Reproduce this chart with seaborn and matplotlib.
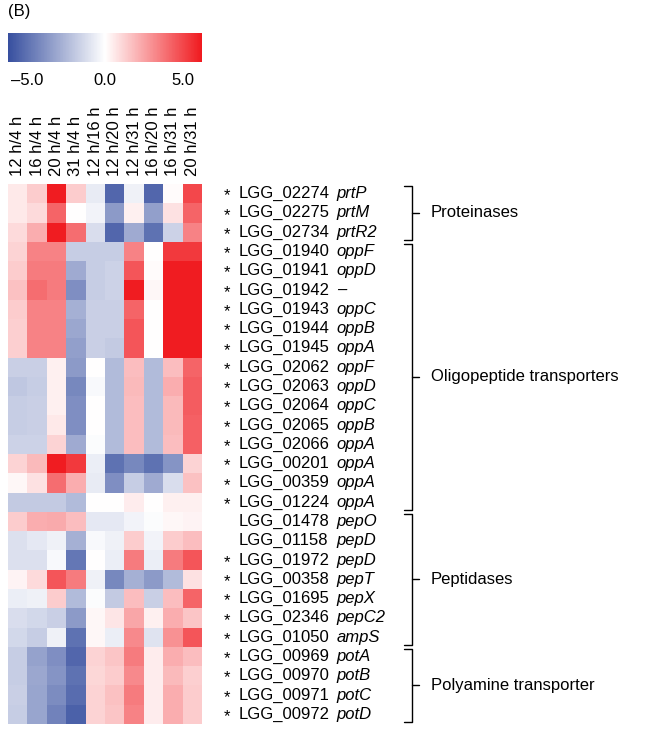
import numpy as np
import pandas as pd
import matplotlib
matplotlib.use('Agg')
import matplotlib.pyplot as plt
import seaborn as sns
from matplotlib.colors import LinearSegmentedColormap

# column comparisons
conditions = ['12 h/4 h', '16 h/4 h', '20 h/4 h', '31 h/4 h', '12 h/16 h',
              '12 h/20 h', '12 h/31 h', '16 h/20 h', '16 h/31 h', '20 h/31 h']

# genes (locus, name, significant)
loci = ['LGG_02274', 'LGG_02275', 'LGG_02734',
        'LGG_01940', 'LGG_01941', 'LGG_01942', 'LGG_01943', 'LGG_01944', 'LGG_01945',
        'LGG_02062', 'LGG_02063', 'LGG_02064', 'LGG_02065', 'LGG_02066',
        'LGG_00201', 'LGG_00359', 'LGG_01224',
        'LGG_01478', 'LGG_01158', 'LGG_01972', 'LGG_00358', 'LGG_01695', 'LGG_02346', 'LGG_01050',
        'LGG_00969', 'LGG_00970', 'LGG_00971', 'LGG_00972']
gene_names = ['prtP', 'prtM', 'prtR2',
              'oppF', 'oppD', '–', 'oppC', 'oppB', 'oppA',
              'oppF', 'oppD', 'oppC', 'oppB', 'oppA',
              'oppA', 'oppA', 'oppA',
              'pepO', 'pepD', 'pepD', 'pepT', 'pepX', 'pepC2', 'ampS',
              'potA', 'potB', 'potC', 'potD']
significant = [1, 1, 1, 1, 1, 1, 1, 1, 1, 1, 1, 1, 1, 1, 1, 1, 1,
               0, 0, 1, 1, 1, 1, 1, 1, 1, 1, 1]

groups = ['Proteinases', 'Oligopeptide transporters', 'Peptidases', 'Polyamine transporter']
group_sizes = [3, 14, 7, 4]

# log2 fold changes
log2fc = [
    [0.6, 1.4, 6.2, 1.4, -0.7, -5.4, -0.5, -5.4, 0.1, 5.0],
    [0.6, 1.0, 4.2, 0.0, -0.4, -3.6, 0.4, -3.4, 0.8, 4.2],
    [1.0, 2.2, 6.2, 4.0, -1.2, -5.4, -3.0, -5.0, -1.6, 3.4],
    [1.2, 3.4, 3.4, -1.8, -1.8, -1.8, 3.4, 0.0, 5.4, 5.4],
    [1.4, 3.6, 3.6, -3.0, -1.8, -1.6, 4.6, 0.1, 6.2, 6.2],
    [1.7, 4.0, 3.6, -4.0, -1.8, -1.6, 6.2, 0.2, 6.2, 6.2],
    [1.4, 3.4, 3.4, -2.8, -1.7, -1.7, 4.2, 0.0, 6.2, 6.2],
    [1.3, 3.4, 3.4, -3.1, -1.7, -1.7, 4.6, 0.0, 6.2, 6.2],
    [1.3, 3.4, 3.4, -3.4, -1.7, -1.9, 4.6, 0.0, 6.2, 6.2],
    [-1.7, -1.7, 0.4, -3.6, 0.0, -2.4, 1.8, -2.4, 1.8, 4.2],
    [-2.0, -1.8, 0.4, -4.2, -0.2, -2.4, 1.9, -2.4, 2.2, 4.4],
    [-1.8, -1.7, 0.4, -4.0, 0.0, -2.4, 1.8, -2.4, 1.9, 4.4],
    [-1.8, -1.7, 0.6, -4.0, 0.0, -2.4, 1.8, -2.4, 1.9, 4.3],
    [-1.6, -1.6, 1.2, -3.0, -0.1, -2.4, 1.8, -2.4, 1.8, 4.3],
    [1.2, 1.9, 6.2, 5.4, -0.6, -5.0, -4.2, -5.0, -3.8, 1.2],
    [0.2, 0.8, 4.0, 2.2, -0.7, -4.0, -1.8, -3.0, -1.2, 1.7],
    [-1.9, -1.9, -1.9, -2.4, 0.0, 0.0, 0.5, 0.0, 0.4, 0.4],
    [1.4, 2.2, 2.3, 1.8, -0.8, -0.8, -0.4, -0.1, 0.2, 0.3],
    [-1.1, -0.8, -0.5, -2.8, -0.2, -0.5, 1.4, -0.4, 1.4, 1.8],
    [-1.1, -1.1, -0.2, -4.8, 0.0, -0.6, 3.6, -0.6, 3.6, 4.6],
    [0.3, 1.0, 4.6, 3.6, -0.5, -4.2, -2.8, -3.6, -2.4, 0.8],
    [-0.6, -0.5, 1.4, -2.4, -0.1, -1.9, 1.8, -1.7, 1.8, 4.2],
    [-1.2, -1.4, -1.7, -3.6, 0.2, 0.7, 2.4, 0.4, 2.2, 1.6],
    [-1.4, -1.8, -0.5, -5.0, 0.2, -0.6, 3.2, -1.0, 3.0, 4.6],
    [-1.8, -3.3, -4.0, -5.4, 1.2, 1.6, 3.6, 0.5, 2.2, 1.8],
    [-1.8, -3.1, -3.8, -5.0, 1.1, 1.4, 3.2, 0.5, 1.9, 1.3],
    [-1.7, -3.2, -4.1, -5.2, 1.2, 1.7, 3.6, 0.5, 2.2, 1.4],
    [-1.8, -3.2, -4.4, -5.6, 1.2, 1.6, 3.4, 0.5, 2.2, 1.4],
]

df = pd.DataFrame(log2fc, index=loci, columns=conditions)

sns.set_style('white')
plt.rcParams['font.family'] = ['Liberation Sans', 'DejaVu Sans']
plt.rcParams['text.color'] = 'black'
plt.rcParams['xtick.color'] = 'black'

cmap = LinearSegmentedColormap.from_list(
    'bwr_paper', ['#374f9f', '#ffffff', '#f01a1f'])

fig = plt.figure(figsize=(6.5, 7.31), dpi=100)
ax = fig.add_axes([8 / 650, 1 - 724 / 731, 194 / 650, 540 / 731])
cax = fig.add_axes([8 / 650, 1 - 62 / 731, 194 / 650, 29 / 731])

sns.heatmap(df, ax=ax, cmap=cmap, vmin=-6.25, vmax=6.25, cbar_ax=cax,
            cbar_kws={'orientation': 'horizontal'},
            xticklabels=True, yticklabels=False)

# column labels on top
ax.xaxis.tick_top()
ax.set_xticklabels(conditions, rotation=90, fontsize=12, color='black')
ax.tick_params(axis='x', length=0, pad=6)
ax.set_xlabel('')
ax.set_ylabel('')

# colorbar
cbar = ax.collections[0].colorbar
cbar.set_ticks([-5, 0, 5])
cbar.set_ticklabels(['–5.0', '0.0', '5.0'])
cbar.ax.tick_params(length=0, labelsize=12, pad=8, labelcolor='black')
cbar.outline.set_visible(False)

fig.text(8 / 650, 1 - 4 / 731, '(B)', fontsize=12, va='top', ha='left')

# row labels
for i, (loc, name, sig) in enumerate(zip(loci, gene_names, significant)):
    y = i + 0.5
    if sig:
        ax.text(11.1, y + 0.12, '*', fontsize=12, va='center', ha='left', clip_on=False)
    ax.text(11.9, y, loc, fontsize=12, va='center', ha='left', clip_on=False)
    ax.text(16.95, y, name, fontsize=12, style='italic', va='center', ha='left', clip_on=False)

# group brackets
start = 0
for grp, n in zip(groups, group_sizes):
    top, bot = start + 0.12, start + n - 0.12
    mid = start + n / 2
    xb = 20.8
    ax.plot([20.4, xb, xb, 20.4], [top, top, bot, bot], color='black', lw=1, clip_on=False)
    ax.plot([xb, 21.2], [mid, mid], color='black', lw=1, clip_on=False)
    ax.text(21.8, mid, grp, fontsize=12, va='center', ha='left', clip_on=False)
    start += n

fig.savefig('out.png', dpi=100)
